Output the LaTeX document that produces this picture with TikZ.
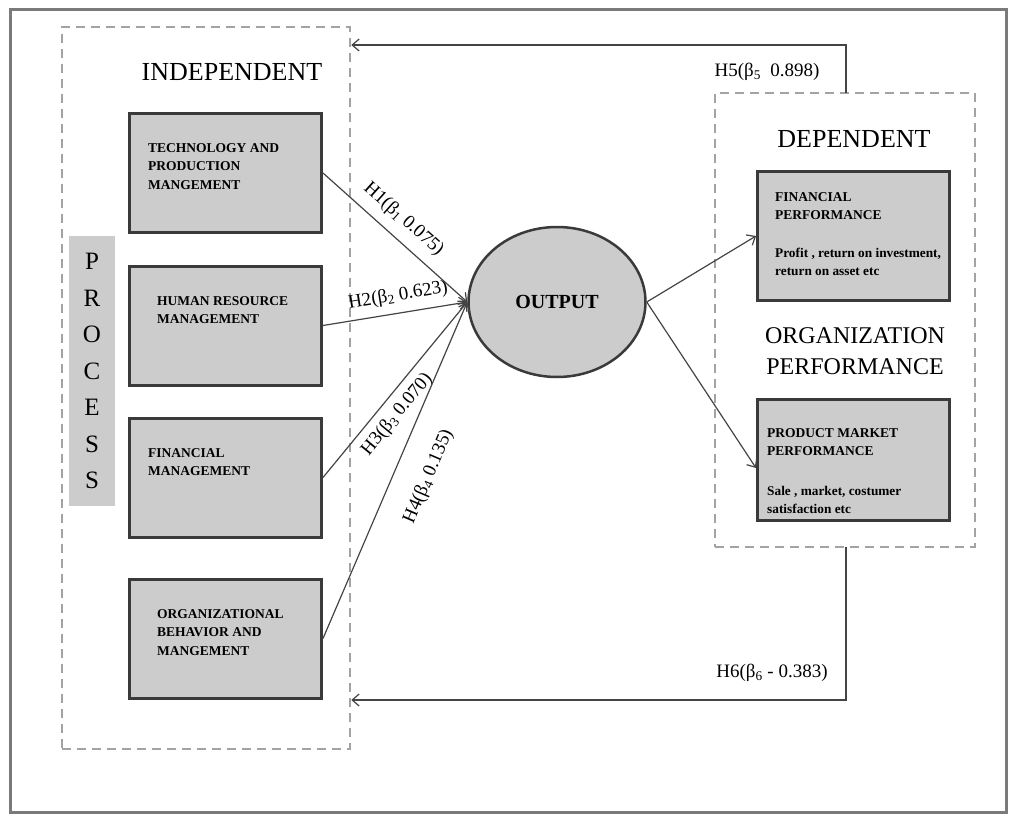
\documentclass[tikz,border=0pt]{standalone}
\usepackage{fontspec}
\setmainfont{Liberation Serif}
\usetikzlibrary{arrows.meta,shapes.geometric}
\definecolor{boxfill}{HTML}{CCCCCC}
\definecolor{boxline}{HTML}{3A3A3A}
\definecolor{dashcol}{HTML}{A3A3A3}
\definecolor{conncol}{HTML}{444444}
\definecolor{framecol}{HTML}{7A7A7A}
\begin{document}
\begin{tikzpicture}[x=1pt,y=-1pt,
 procbox/.style={draw=boxline, fill=boxfill, line width=3pt, minimum width=192pt, minimum height=119pt, inner sep=0pt},
 boxtext/.style={anchor=north west, inner sep=0pt, align=left, font=\fontsize{13.5}{18.5}\selectfont\bfseries},
 smalltext/.style={anchor=north west, inner sep=0pt, align=left, font=\fontsize{13.3}{18}\selectfont\bfseries},
 dashbox/.style={draw=dashcol, line width=2.5pt, dash pattern=on 9pt off 6pt, inner sep=0pt},
 bigtitle/.style={font=\fontsize{26}{31}\selectfont, align=center},
 conn/.style={draw=conncol, line width=1.2pt, -{Straight Barb[length=7pt,width=12pt]}},
 hlab/.style={font=\fontsize{19}{22}\selectfont, sloped, inner sep=2pt},
 flab/.style={font=\fontsize{19}{22}\selectfont, inner sep=0pt},
]
\useasboundingbox (0,0) rectangle (1010,816);
\draw[framecol, line width=3pt] (10,10) rectangle (1006,812);

% dashed group boxes
\node[dashbox, minimum width=288pt, minimum height=722pt] (indep) at (206,388) {};
\node[dashbox, minimum width=260pt, minimum height=454pt] (dep) at (845,320) {};

% titles
\node[bigtitle] (indtitle) at (232,72) {INDEPENDENT};
\node[bigtitle] (deptitle) at (854,139) {DEPENDENT};
\node[bigtitle, font=\fontsize{24}{31}\selectfont] (orgtitle) at (855,351) {ORGANIZATION\\PERFORMANCE};

% process bar
\node[fill=boxfill, minimum width=46pt, minimum height=270pt, inner sep=0pt, align=center,
      font=\fontsize{25}{36.5}\selectfont] (proc) at (92,371) {P\\R\\O\\C\\E\\S\\S};

% independent boxes
\node[procbox] (tech) at (225.5,173) {};
\node[boxtext] (techt) at (148,143) {TECHNOLOGY AND\\PRODUCTION\\MANGEMENT};
\node[procbox] (hr) at (225.5,325.5) {};
\node[boxtext] (hrt) at (157,296) {HUMAN RESOURCE\\MANAGEMENT};
\node[procbox] (fm) at (225.5,477.5) {};
\node[boxtext] (fmt) at (148,448) {FINANCIAL\\MANAGEMENT};
\node[procbox] (ob) at (225.5,638.5) {};
\node[boxtext] (obt) at (157,609) {ORGANIZATIONAL\\BEHAVIOR AND\\MANGEMENT};

% output
\node[ellipse, draw=boxline, fill=boxfill, line width=2.5pt, minimum width=177pt, minimum height=150pt,
      font=\fontsize{20}{24}\selectfont\bfseries] (out) at (557,302) {OUTPUT};

% dependent boxes
\node[procbox, minimum height=129pt] (fin) at (853.5,236) {};
\node[boxtext] (fint) at (775,192) {FINANCIAL\\PERFORMANCE};
\node[smalltext] (finst) at (775,248) {Profit , return on investment,\\return on asset etc};
\node[procbox, minimum height=121pt] (prod) at (853.5,460) {};
\node[boxtext] (prodt) at (767,428) {PRODUCT MARKET\\PERFORMANCE};
\node[smalltext] (prodst) at (767,486) {Sale , market, costumer\\satisfaction etc};

% connectors into output
\draw[conn] (tech.east) -- (out.west) node[hlab, pos=0.47, above=8pt] {H1(β\textsubscript{1} 0.075)};
\draw[conn] (hr.east) -- (out.west) node[hlab, pos=0.54, above=6pt] {H2(β\textsubscript{2} 0.623)};
\draw[conn] (fm.east) -- (out.west) node[hlab, pos=0.42, below=6pt] {H3(β\textsubscript{3} 0.070)};
\draw[conn] (ob.east) -- (out.west) node[hlab, pos=0.52, below=22pt] {H4(β\textsubscript{4} 0.135)};

% output to dependent
\draw[conn] (out.east) -- (fin.west);
\draw[conn] (out.east) -- ([yshift=-8pt]prod.west);

% feedback loops
\coordinate (h5a) at (846,93);
\coordinate (h5b) at (846,45);
\draw[conn] (h5a) -- (h5b) -- (h5b -| indep.east);
\node[flab] (h5l) at (767,72) {H5(β\textsubscript{5}\ \ 0.898)};
\coordinate (h6a) at (846,547);
\coordinate (h6b) at (846,700);
\draw[conn] (h6a) -- (h6b) -- (h6b -| indep.east);
\node[flab] (h6l) at (772,673) {H6(β\textsubscript{6} - 0.383)};
\end{tikzpicture}
\end{document}
